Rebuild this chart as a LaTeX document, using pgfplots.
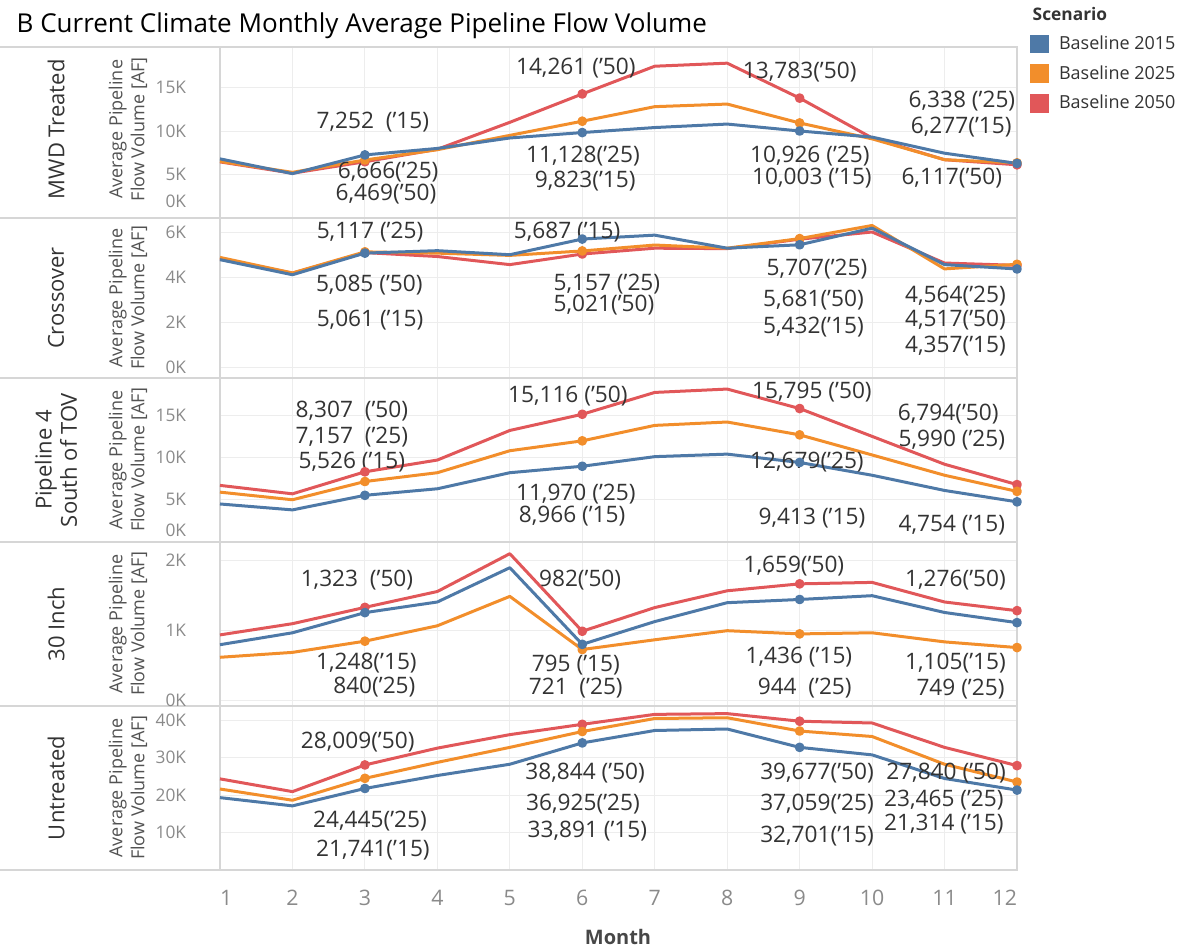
\documentclass[border=0pt]{standalone}
\usepackage{fontspec}
\setmainfont{Open Sans}
\usepackage{pgfplots}
\pgfplotsset{compat=1.18}
\usepackage{pgfplotstable}

\definecolor{cB}{HTML}{4E79A7}
\definecolor{cO}{HTML}{F28E2B}
\definecolor{cR}{HTML}{E15759}
\definecolor{gridc}{HTML}{EDEDED}
\definecolor{framec}{HTML}{D6D6D6}
\definecolor{tickc}{HTML}{8A8A8A}
\definecolor{txt}{HTML}{333333}

% columns: month, Baseline 2015 (a), Baseline 2025 (b), Baseline 2050 (c)
\pgfplotstableread{
m a b c
1 6800 6500 6450
2 5100 5250 5150
3 7252 6666 6469
4 8000 7850 7900
5 9200 9500 11000
6 9823 11128 14261
7 10400 12800 17450
8 10800 13100 17800
9 10003 10926 13783
10 9300 9100 9200
11 7450 6700 6700
12 6277 6338 6117
}\mwd
\pgfplotstableread{
m a b c
1 4770 4870 4820
2 4100 4180 4170
3 5061 5117 5085
4 5170 5060 4910
5 4990 4960 4550
6 5687 5157 5021
7 5860 5420 5280
8 5280 5280 5260
9 5432 5707 5681
10 6170 6290 6000
11 4550 4360 4620
12 4357 4564 4517
}\cross
\pgfplotstableread{
m a b c
1 4500 5900 6700
2 3800 5000 5700
3 5526 7157 8307
4 6300 8200 9700
5 8200 10800 13200
6 8966 11970 15116
7 10100 13800 17700
8 10400 14200 18100
9 9413 12679 15795
10 7900 10300 12500
11 6100 7900 9200
12 4754 5990 6794
}\pipe
\pgfplotstableread{
m a b c
1 790 610 930
2 960 680 1090
3 1248 840 1323
4 1400 1060 1550
5 1890 1480 2090
6 795 721 982
7 1120 860 1320
8 1390 990 1560
9 1436 944 1659
10 1490 960 1680
11 1250 830 1400
12 1105 749 1276
}\thirty
\pgfplotstableread{
m a b c
1 19300 21600 24300
2 17100 18600 20900
3 21741 24445 28009
4 25200 28700 32500
5 28200 32700 36100
6 33891 36925 38844
7 37200 40400 41500
8 37600 40600 41700
9 32701 37059 39677
10 30700 35600 39200
11 24400 28200 32700
12 21314 23465 27840
}\untr

\pgfplotsset{
  panel/.style={
    scale only axis, width=597.75pt,
    xmin=1, xmax=12, xtick={1,...,12}, xticklabels={},
    scaled y ticks=false, scaled x ticks=false,
    grid=major, major grid style={gridc, line width=0.7pt},
    axis line style={framec, line width=0.8pt},
    major tick length=0pt,
    yticklabel style={font=\fontsize{13}{15}\selectfont, text=tickc, xshift=-21.9pt},
    xticklabel style={font=\fontsize{16}{18}\selectfont, text=tickc, yshift=-11.5pt},
    clip=false,
  },
  ser/.style={line width=2.25pt, line join=round, mark=*, mark size=2.5pt, mark indices={3,6,9,12}, mark options={solid}},
}
\tikzset{lab/.style={font=\fontsize{17}{19}\selectfont, text=txt, inner sep=0pt}}

\newcommand{\threeplots}[1]{%
  \addplot[ser, cR] table[x=m, y=c]{#1};
  \addplot[ser, cO] table[x=m, y=b]{#1};
  \addplot[ser, cB] table[x=m, y=a]{#1};
}

\begin{document}
\begin{tikzpicture}
\useasboundingbox (0,0) rectangle (895.5pt,-711pt);

% row dividers
\foreach \yy in {35.25,163.5,283.5,406.5,529.5,652.5}
  \draw[framec, line width=0.8pt] (0,-\yy pt) -- (762.75pt,-\yy pt);

% ---------- Panel 1: MWD Treated
\begin{axis}[panel, at={(165pt,-35.25pt)}, anchor=north west, height=128.25pt,
  ymin=0, ymax=19660, ytick={0,5000,10000,15000},
  yticklabels={\smash{\raisebox{8pt}{0K}},5K,10K,15K},
  legend style={at={(axis description cs:1.0163,1.073)}, anchor=north west,
    draw=none, fill=none, inner sep=0pt, row sep=8.6pt, column sep=8pt,
    font=\fontsize{13.5}{16}\selectfont, text=txt,
    nodes={inner sep=0pt}},
  legend cell align=left]
\addlegendimage{legend image code/.code={\fill[cB] (0pt,-6.6pt) rectangle (13.2pt,6.6pt);}}
\addlegendimage{legend image code/.code={\fill[cO] (0pt,-6.6pt) rectangle (13.2pt,6.6pt);}}
\addlegendimage{legend image code/.code={\fill[cR] (0pt,-6.6pt) rectangle (13.2pt,6.6pt);}}
\legend{Baseline 2015, Baseline 2025, Baseline 2050}
\threeplots{\mwd}
\node[lab] at (axis cs:5.91,17240) {14,261 (’50)};
\node[lab] at (axis cs:3.11,11030) {7,252\ \ (’15)};
\node[lab] at (axis cs:3.32,5290) {6,666(’25)};
\node[lab] at (axis cs:3.29,2700) {6,469(’50)};
\node[lab] at (axis cs:6.01,7130) {11,128(’25)};
\node[lab] at (axis cs:6.04,4300) {9,823(’15)};
\node[lab] at (axis cs:9.00,16780) {13,783(’50)};
\node[lab] at (axis cs:9.14,7130) {10,926 (’25)};
\node[lab] at (axis cs:9.17,4550) {10,003 (’15)};
\node[lab] at (axis cs:11.24,13450) {6,338 (’25)};
\node[lab] at (axis cs:11.23,10460) {6,277(’15)};
\node[lab] at (axis cs:11.10,4600) {6,117(’50)};
\end{axis}

% ---------- Panel 2: Crossover
\begin{axis}[panel, at={(165pt,-163.5pt)}, anchor=north west, height=120pt,
  ymin=-489, ymax=6622, ytick={0,2000,4000,6000},
  yticklabels={0K,2K,4K,6K}]
\threeplots{\cross}
\node[lab] at (axis cs:3.07,6000) {5,117 (’25)};
\node[lab] at (axis cs:3.06,3640) {5,085 (’50)};
\node[lab] at (axis cs:3.07,2090) {5,061 (’15)};
\node[lab] at (axis cs:5.79,6000) {5,687 (’15)};
\node[lab] at (axis cs:6.34,3690) {5,157 (’25)};
\node[lab] at (axis cs:6.30,2760) {5,021(’50)};
\node[lab] at (axis cs:9.24,4360) {5,707(’25)};
\node[lab] at (axis cs:9.19,2980) {5,681(’50)};
\node[lab] at (axis cs:9.19,1780) {5,432(’15)};
\node[lab] at (axis cs:11.15,3160) {4,564(’25)};
\node[lab] at (axis cs:11.15,2090) {4,517(’50)};
\node[lab] at (axis cs:11.15,930) {4,357(’15)};
\end{axis}

% ---------- Panel 3: Pipeline 4 South of TOV
\begin{axis}[panel, at={(165pt,-283.5pt)}, anchor=north west, height=123pt,
  ymin=0, ymax=19408, ytick={0,5000,10000,15000},
  yticklabels={\smash{\raisebox{4.5pt}{0K}},5K,10K,15K}]
\threeplots{\pipe}
\node[lab] at (axis cs:5.80,17280) {15,116 (’50)};
\node[lab] at (axis cs:2.82,15500) {8,307\ \ (’50)};
\node[lab] at (axis cs:2.82,12430) {7,157\ \ (’25)};
\node[lab] at (axis cs:2.82,9470) {5,526 (’15)};
\node[lab] at (axis cs:5.91,5650) {11,970 (’25)};
\node[lab] at (axis cs:5.86,3050) {8,966 (’15)};
\node[lab] at (axis cs:9.17,17750) {15,795 (’50)};
\node[lab] at (axis cs:9.10,9470) {12,679(’25)};
\node[lab] at (axis cs:9.17,2840) {9,413 (’15)};
\node[lab] at (axis cs:11.05,15150) {6,794(’50)};
\node[lab] at (axis cs:11.10,12070) {5,990 (’25)};
\node[lab] at (axis cs:11.10,2010) {4,754 (’15)};
\end{axis}

% ---------- Panel 4: 30 Inch
\begin{axis}[panel, at={(165pt,-406.5pt)}, anchor=north west, height=123pt,
  ymin=-86, ymax=2257, ytick={0,1000,2000},
  yticklabels={0K,1K,2K}]
\threeplots{\thirty}
\node[lab] at (axis cs:2.89,1714) {1,323\ \ (’50)};
\node[lab] at (axis cs:5.97,1714) {982(’50)};
\node[lab] at (axis cs:3.02,529) {1,248(’15)};
\node[lab] at (axis cs:3.13,190) {840(’25)};
\node[lab] at (axis cs:5.91,500) {795 (’15)};
\node[lab] at (axis cs:5.91,171) {721\ \ (’25)};
\node[lab] at (axis cs:8.92,1914) {1,659(’50)};
\node[lab] at (axis cs:8.99,614) {1,436 (’15)};
\node[lab] at (axis cs:9.07,171) {944\ \ (’25)};
\node[lab] at (axis cs:11.15,1714) {1,276(’50)};
\node[lab] at (axis cs:11.15,529) {1,105(’15)};
\node[lab] at (axis cs:11.22,157) {749 (’25)};
\end{axis}

% ---------- Panel 5: Untreated
\begin{axis}[panel, at={(165pt,-529.5pt)}, anchor=north west, height=123pt,
  ymin=0, ymax=43730, ytick={10000,20000,30000,40000},
  yticklabels={10K,20K,30K,40K},
  xticklabels={\makebox[0pt][l]{1},2,3,4,5,6,7,8,9,10,11,\makebox[0pt][r]{12}}]
\threeplots{\untr}
\node[lab] at (axis cs:2.90,34130) {28,009(’50)};
\node[lab] at (axis cs:3.07,13070) {24,445(’25)};
\node[lab] at (axis cs:3.11,5330) {21,741(’15)};
\node[lab] at (axis cs:6.04,25870) {38,844 (’50)};
\node[lab] at (axis cs:6.01,17600) {36,925(’25)};
\node[lab] at (axis cs:6.07,10400) {33,891 (’15)};
\node[lab] at (axis cs:9.24,25870) {39,677(’50)};
\node[lab] at (axis cs:9.24,17600) {37,059(’25)};
\node[lab] at (axis cs:9.24,9070) {32,701(’15)};
\node[lab] at (axis cs:11.02,25870) {27,840 (’50)};
\node[lab] at (axis cs:10.99,18670) {23,465 (’25)};
\node[lab] at (axis cs:10.99,12270) {21,314 (’15)};
\end{axis}

% ---------- headers
\node[anchor=west, font=\fontsize{19.5}{23}\selectfont, text=black] at (9pt,-19pt)
  {B Current Climate Monthly Average Pipeline Flow Volume};
\node[anchor=west, font=\bfseries\fontsize{13}{16}\selectfont, text=txt] at (771pt,-10.5pt) {Scenario};

\foreach \yc/\name in {97/{MWD Treated},223.5/{Crossover},345/{Pipeline 4\\South of TOV},468/{30 Inch},591/{Untreated}}{
  \node[rotate=90, align=center, font=\fontsize{16.5}{19}\selectfont, text=txt] at (42pt,-\yc pt) {\name};
  \node[rotate=90, align=center, font=\fontsize{13.5}{16.5}\selectfont, text=txt!85] at (96pt,-\yc pt) {Average Pipeline\\Flow Volume [AF]};
}

\node[font=\bfseries\fontsize{15}{18}\selectfont, text=txt!90] at (463.5pt,-702.75pt) {Month};
\end{tikzpicture}
\end{document}
